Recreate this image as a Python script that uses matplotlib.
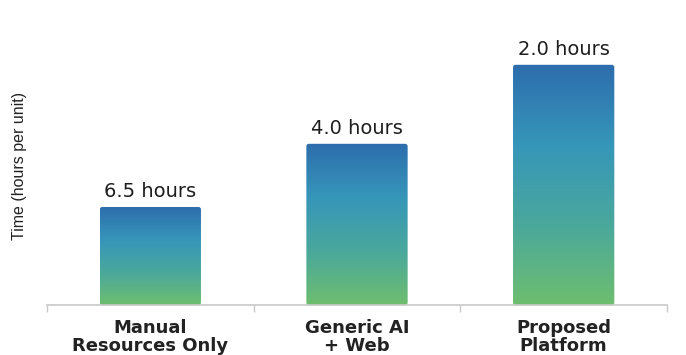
import matplotlib.pyplot as plt
import numpy as np
from matplotlib.colors import LinearSegmentedColormap
from matplotlib.patches import FancyBboxPatch

categories = ['Manual\nResources Only', 'Generic AI\n+ Web', 'Proposed\nPlatform']
hours = [6.5, 4.0, 2.0]
value_labels = ['6.5 hours', '4.0 hours', '2.0 hours']
y_label = 'Time (hours per unit)'

# bars rise in the opposite order to the hours printed above them
bar_values = hours[::-1]

y_min, y_max = -1.1, 8.55
bar_width = 0.49

grad = LinearSegmentedColormap.from_list(
    'bar_grad', ['#6ebe6f', '#4aa89c', '#3696b9', '#2d6dad'])

plt.rcParams['font.family'] = ['DejaVu Sans']

fig = plt.figure(figsize=(6.86, 3.55), dpi=100)
ax = fig.add_axes([47 / 686, 50 / 355, 620 / 686, 305 / 355])
ax.set_xlim(-0.5, len(categories) - 0.5)
ax.set_ylim(y_min, y_max)

x = np.arange(len(categories))
gradient = np.linspace(0, 1, 256).reshape(-1, 1)
for xi, val, lab in zip(x, bar_values, value_labels):
    left = xi - bar_width / 2
    patch = FancyBboxPatch((left, y_min), bar_width, val - y_min,
                           boxstyle='round,pad=0,rounding_size=0.012',
                           mutation_aspect=(y_max - y_min) / 3 * 2.0,
                           linewidth=0, facecolor='none')
    ax.add_patch(patch)
    im = ax.imshow(gradient, cmap=grad, origin='lower', aspect='auto',
                   extent=(left, left + bar_width, y_min, val), zorder=2)
    im.set_clip_path(patch)
    ax.text(xi, val + 0.18, lab, ha='center', va='bottom',
            fontsize=14, color='#1e1e1e')

ax.set_xlim(-0.5, len(categories) - 0.5)
ax.set_ylim(y_min, y_max)

for side in ['top', 'right', 'left']:
    ax.spines[side].set_visible(False)
ax.spines['bottom'].set_color('#c8c8c8')
ax.spines['bottom'].set_linewidth(1.2)

ax.set_yticks([])
ax.set_xticks(np.arange(-0.5, len(categories)), minor=False)
ax.set_xticklabels([])
ax.tick_params(axis='x', length=5, color='#c8c8c8', width=1, direction='out')

for xi, cat in zip(x, categories):
    ax.text(xi, -0.045, cat, transform=ax.get_xaxis_transform(),
            ha='center', va='top', fontsize=13, fontweight='bold',
            color='#222222', linespacing=1.05)

fig.text(20 / 686, 189 / 355, y_label, rotation=90, ha='center', va='center',
         fontsize=11.5, color='#222222',
         family=['Liberation Sans', 'DejaVu Sans'])

fig.savefig('out.png', dpi=100)
